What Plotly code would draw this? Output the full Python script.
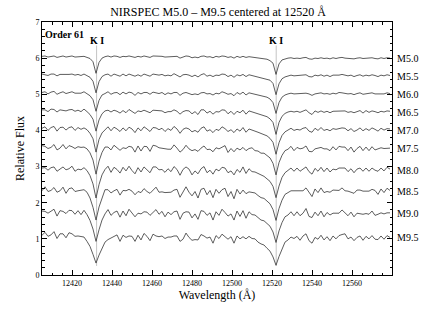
import plotly.graph_objects as go

# wavelength grid (Angstrom), 1.5 A sampling
wave_start = 12405.0
wave_step = 1.5
n_pts = 117
wavelength = [wave_start + wave_step * i for i in range(n_pts)]

spectral_types = ["M5.0", "M5.5", "M6.0", "M6.5", "M7.0", "M7.5", "M8.0", "M8.5", "M9.0", "M9.5"]
offsets = [5.0, 4.5, 4.0, 3.5, 3.0, 2.5, 1.9, 1.3, 0.7, 0.05]

ki_lines = [12432.3, 12522.1]
ki_labels = ["K I", "K I"]

flux_m50 = [1.05,1.06,1.03,1.05,1.06,1.02,1.04,1.06,1.03,1.05,1.06,1.03,1.04,1.03,1.05,1.02,
            0.99,0.90,0.58,0.88,1.00,
            1.04,1.06,1.03,1.06,1.05,1.02,1.05,1.04,1.06,1.04,
            1.02,1.05,1.03,1.06,1.05,1.02,1.06,1.06,1.04,1.05,
            1.03,1.04,1.03,1.06,1.05,1.00,1.04,1.06,1.05,1.01,
            1.03,1.01,1.05,1.06,1.03,1.04,1.01,1.05,1.03,1.06,
            1.05,1.02,1.04,1.00,1.05,1.02,1.05,1.02,1.04,1.03,1.02,
            1.01,1.00,0.99,0.97,0.93,0.86,0.55,0.84,0.95,0.98,1.00,
            1.01,0.99,1.00,0.99,1.01,1.02,0.98,0.97,1.00,0.99,
            1.01,0.99,1.00,0.98,1.01,0.99,1.01,1.02,1.00,0.99,
            1.00,0.98,1.00,1.01,0.99,1.00,0.99,1.01,0.99,0.98,
            1.01,0.99,1.01,1.00]
flux_m55 = [1.06,1.05,1.02,1.06,1.06,1.01,1.05,1.05,1.04,1.05,1.06,1.03,1.05,1.02,1.06,1.02,
            0.97,0.86,0.54,0.85,0.99,
            1.04,1.06,1.00,1.06,1.03,1.00,1.06,1.01,1.06,1.04,
            1.00,1.04,1.00,1.06,1.03,1.00,1.06,1.05,1.03,1.05,
            1.01,1.03,1.01,1.07,1.03,0.98,1.04,1.05,1.03,0.99,
            1.03,0.98,1.04,1.07,1.00,1.03,0.99,1.03,1.02,1.06,
            1.05,0.99,1.03,0.97,1.04,1.01,1.05,0.99,1.04,1.02,1.01,
            0.99,0.97,0.95,0.93,0.89,0.80,0.49,0.79,0.93,0.98,1.01,
            1.03,1.01,1.02,1.01,1.04,1.04,0.99,0.98,1.03,1.01,
            1.04,1.00,1.03,0.99,1.03,1.02,1.03,1.05,1.02,1.01,
            1.03,0.99,1.02,1.04,1.00,1.03,1.01,1.04,1.02,0.99,
            1.03,1.01,1.04,1.02]
flux_m60 = [1.05,1.07,1.01,1.06,1.08,1.00,1.04,1.07,1.02,1.04,1.07,1.03,1.04,1.03,1.07,1.02,
            0.96,0.85,0.53,0.83,0.98,
            1.02,1.07,1.00,1.04,1.05,0.99,1.06,1.01,1.06,1.04,
            0.97,1.05,1.01,1.05,1.05,1.00,1.06,1.05,1.02,1.05,
            0.99,1.04,1.01,1.05,1.05,0.97,1.03,1.05,1.03,0.99,
            1.01,0.99,1.04,1.05,1.01,1.02,0.98,1.03,1.01,1.07,
            1.04,1.00,1.02,0.96,1.05,1.00,1.06,0.98,1.04,1.03,1.00,
            0.98,0.96,0.94,0.92,0.87,0.77,0.47,0.77,0.92,0.98,1.01,
            1.03,1.01,1.02,1.01,1.04,1.03,1.01,0.97,1.01,1.02,
            1.04,1.01,1.02,1.00,1.03,1.01,1.05,1.04,1.02,1.01,
            1.02,0.99,1.02,1.04,1.00,1.02,1.02,1.04,1.01,1.01,
            1.03,1.01,1.04,1.02]
flux_m65 = [1.07,1.07,1.02,1.09,1.08,1.01,1.07,1.06,1.04,1.07,1.08,1.03,1.06,1.02,1.09,1.02,
            0.94,0.81,0.48,0.79,0.96,
            1.04,1.06,1.01,1.06,1.03,0.98,1.05,0.99,1.08,1.02,
            0.97,1.04,1.02,1.06,1.03,0.99,1.06,1.05,1.03,1.04,
            0.99,1.02,1.02,1.07,1.03,0.95,1.02,1.05,1.04,0.96,
            1.02,0.94,1.07,1.07,0.98,1.03,0.95,1.02,1.01,1.07,
            1.06,0.96,1.03,0.94,1.03,0.99,1.06,0.95,1.04,1.01,0.99,
            0.96,0.94,0.91,0.88,0.82,0.72,0.39,0.72,0.89,0.97,1.01,
            1.03,1.01,1.03,1.00,1.03,1.07,0.99,0.94,1.04,1.00,
            1.04,1.00,1.03,0.99,1.03,1.03,1.04,1.04,1.04,1.00,
            1.02,0.99,1.01,1.05,0.98,1.05,1.00,1.04,1.02,0.99,
            1.03,1.01,1.04,1.03]
flux_m70 = [1.06,1.10,1.00,1.08,1.11,0.98,1.08,1.09,1.01,1.08,1.10,1.00,1.08,1.03,1.07,1.02,
            0.92,0.77,0.40,0.75,0.93,
            1.03,1.10,0.99,1.09,1.04,0.97,1.07,0.99,1.09,1.04,
            0.94,1.07,0.99,1.10,1.04,0.97,1.08,1.07,1.02,1.06,
            0.97,1.05,1.00,1.11,1.04,0.92,1.03,1.07,1.04,0.96,
            1.00,0.95,1.06,1.10,0.98,1.02,0.94,1.03,1.00,1.10,
            1.05,0.97,1.02,0.94,1.04,0.98,1.08,0.95,1.04,1.02,0.98,
            0.95,0.92,0.89,0.85,0.78,0.67,0.34,0.66,0.86,0.96,1.01,
            1.06,1.00,1.03,1.01,1.06,1.08,0.98,0.95,1.06,1.00,
            1.08,1.00,1.03,0.99,1.05,1.03,1.05,1.07,1.06,0.99,
            1.05,0.97,1.01,1.07,0.99,1.05,1.00,1.07,1.03,0.98,
            1.06,1.01,1.05,1.04]
flux_m75 = [1.08,1.06,1.00,1.03,1.11,0.96,1.01,1.11,0.99,1.08,1.05,1.00,1.05,1.03,1.04,0.99,
            0.88,0.68,0.29,0.65,0.89,
            1.04,1.04,0.96,1.09,1.01,0.95,1.02,1.00,1.06,1.04,
            0.90,1.07,0.93,1.06,1.05,0.92,1.09,1.07,1.02,1.00,
            0.98,0.98,0.98,1.10,1.01,0.90,0.97,1.09,0.99,0.94,
            0.97,0.92,1.01,1.07,0.97,0.98,0.91,1.02,0.99,1.03,
            1.08,0.89,1.00,0.91,1.01,0.96,1.03,0.94,1.00,1.02,0.94,
            0.93,0.87,0.87,0.80,0.74,0.59,0.27,0.61,0.81,0.94,0.98,
            1.06,0.94,1.03,0.99,1.01,1.07,0.92,0.91,0.99,1.01,
            1.03,0.99,0.99,0.94,1.05,0.96,1.06,1.04,1.04,0.94,
            1.04,0.90,1.00,1.06,0.94,1.04,0.94,1.05,0.96,0.99,
            1.02,1.00,1.00,1.01]
flux_m80 = [1.06,1.07,1.00,1.07,1.09,0.97,1.03,1.09,1.01,1.04,1.11,0.97,1.03,1.01,1.07,0.99,
            0.85,0.62,0.23,0.60,0.87,
            1.02,1.11,0.94,1.08,1.02,0.92,1.08,0.98,1.11,0.99,
            0.90,1.07,0.95,1.09,1.02,0.93,1.09,1.09,1.01,1.02,
            0.94,1.04,0.96,1.10,1.02,0.86,1.02,1.09,1.03,0.87,
            0.98,0.90,1.04,1.10,0.93,1.00,0.89,1.03,0.98,1.08,
            1.06,0.93,0.98,0.87,1.02,0.94,1.09,0.91,1.04,0.96,0.95,
            0.90,0.87,0.83,0.77,0.69,0.55,0.24,0.56,0.80,0.93,1.00,
            1.06,0.97,1.06,0.97,1.04,1.09,0.96,0.89,1.05,0.97,
            1.08,0.96,1.06,0.95,1.03,1.01,1.06,1.07,1.06,0.96,
            1.04,0.93,1.03,1.06,0.97,1.06,0.97,1.06,1.00,0.97,
            1.06,0.98,1.08,1.03]
flux_m85 = [1.03,1.14,1.01,1.04,1.12,0.99,1.03,1.13,0.96,1.09,1.11,1.01,1.03,1.05,1.06,0.99,
            0.83,0.57,0.22,0.58,0.82,
            1.06,1.06,0.97,1.03,1.07,0.91,1.04,1.03,1.07,1.02,
            0.92,1.01,0.98,1.09,1.01,0.96,1.05,1.13,0.99,1.00,
            0.98,0.99,0.99,1.05,1.07,0.85,0.98,1.14,0.99,0.89,
            1.01,0.83,1.07,1.10,0.92,1.04,0.84,1.07,0.96,1.06,
            1.10,0.87,1.01,0.81,1.07,0.94,1.05,0.95,1.00,0.99,0.97,
            0.90,0.84,0.82,0.74,0.67,0.51,0.21,0.54,0.77,0.93,0.99,
            1.03,1.03,1.03,1.01,1.03,1.11,0.98,0.87,1.08,0.98,
            1.11,0.98,1.01,0.99,1.05,1.05,1.04,1.11,1.03,1.02,
            1.00,0.96,1.05,1.05,1.02,1.03,1.02,1.07,1.04,0.93,
            1.08,0.98,1.10,1.04]
flux_m90 = [1.07,1.06,1.01,1.06,1.12,0.93,1.08,1.06,1.00,1.09,1.08,0.98,1.08,0.97,1.09,0.97,
            0.81,0.57,0.23,0.55,0.82,
            0.99,1.11,0.95,1.03,1.07,0.90,1.07,0.94,1.12,1.00,
            0.91,1.01,0.99,1.05,1.04,0.95,1.02,1.11,0.98,1.06,
            0.91,1.04,0.97,1.05,1.07,0.84,1.01,1.05,1.04,0.88,
            0.99,0.84,1.08,1.06,0.95,1.02,0.82,1.05,0.95,1.12,
            1.03,0.93,0.99,0.82,1.07,0.92,1.08,0.87,1.05,0.97,0.96,
            0.88,0.82,0.80,0.72,0.65,0.49,0.20,0.52,0.75,0.91,0.96,
            1.05,0.94,1.05,0.94,1.01,1.14,0.92,0.89,1.04,0.94,
            1.07,0.91,1.03,0.96,1.01,1.00,1.01,1.10,1.02,0.94,
            1.04,0.91,1.01,1.00,0.98,1.00,0.98,1.07,0.95,0.98,
            1.02,0.99,1.02,1.02]
flux_m95 = [1.05,1.13,1.02,1.06,1.15,0.96,1.09,1.09,0.98,1.12,1.09,1.02,1.03,1.02,1.00,0.88,
            0.74,0.52,0.28,0.50,0.70,0.86,0.93,
            0.97,1.03,1.06,0.88,1.05,0.99,1.03,1.02,
            0.88,1.05,0.92,1.10,1.02,0.90,1.08,1.03,1.01,1.03,
            0.96,1.00,1.00,1.03,1.03,0.88,0.94,1.11,0.99,0.91,
            0.93,0.92,1.07,1.03,0.97,1.00,0.83,1.04,0.96,1.08,
            1.02,0.94,1.01,0.83,1.03,0.95,1.01,0.95,1.02,0.96,0.95,
            0.86,0.81,0.78,0.69,0.61,0.45,0.22,0.46,0.69,0.86,0.92,
            1.00,0.96,1.02,0.91,1.03,1.09,0.90,0.83,0.99,0.94,
            1.05,0.92,1.01,0.90,1.03,0.95,1.04,1.07,1.09,0.95,
            1.00,0.90,0.99,1.03,0.91,1.02,0.95,1.04,0.94,0.93,
            1.03,0.94,1.04,0.99]

fluxes = [flux_m50, flux_m55, flux_m60, flux_m65, flux_m70,
          flux_m75, flux_m80, flux_m85, flux_m90, flux_m95]

SERIF = "Liberation Serif"

fig = go.Figure()

for name, off, flux in zip(spectral_types, offsets, fluxes):
    fig.add_trace(go.Scatter(
        x=wavelength, y=[f + off for f in flux], mode="lines", name=name,
        line=dict(color="#333333", width=0.8), hoverinfo="skip"))

# K I reference lines
for w in ki_lines:
    fig.add_shape(type="line", x0=w, x1=w, y0=0.25, y1=6.35, xref="x", yref="y",
                  line=dict(color="#c4c4c4", width=1), layer="below")

annotations = []
for w, lab in zip(ki_lines, ki_labels):
    annotations.append(dict(x=w, y=6.49, xref="x", yref="y", text="<b>" + lab + "</b>",
                            showarrow=False, font=dict(family=SERIF, size=10, color="black")))
annotations.append(dict(x=0, y=6.66, xref="paper", yref="y", text="<b>Order 61</b>",
                        xanchor="left", xshift=1, showarrow=False,
                        font=dict(family=SERIF, size=10, color="black")))
for name, off in zip(spectral_types, offsets):
    annotations.append(dict(x=1, y=off + 1.0, xref="paper", yref="y", text=name,
                            xanchor="left", xshift=3, showarrow=False,
                            font=dict(family=SERIF, size=10, color="black")))

fig.update_layout(
    width=436, height=310,
    margin=dict(l=42, r=44, t=22, b=33),
    paper_bgcolor="white", plot_bgcolor="white",
    showlegend=False, hovermode=False,
    title=dict(text="NIRSPEC M5.0 \u2013 M9.5 centered at 12520 \u00c5", x=0.5, xanchor="center",
               y=1 - 12 / 310, yanchor="middle", yref="container",
               font=dict(family=SERIF, size=12, color="black")),
    annotations=annotations,
    font=dict(family=SERIF, color="black"),
)

fig.update_xaxes(
    range=[12405, 12580],
    tickmode="array", tickvals=list(range(12420, 12561, 20)), tickformat="d",
    ticks="inside", ticklen=5, tickcolor="black",
    showline=True, linecolor="black", linewidth=1, mirror="allticks",
    showgrid=False, zeroline=False,
    tickfont=dict(family=SERIF, size=8, color="black"),
    minor=dict(dtick=5, ticks="inside", ticklen=2.5, tickcolor="black", showgrid=False),
    title=dict(text="Wavelength (\u00c5)", font=dict(family=SERIF, size=12, color="black"), standoff=2),
)
fig.update_yaxes(
    range=[0, 7], dtick=1,
    ticks="inside", ticklen=5, tickcolor="black",
    showline=True, linecolor="black", linewidth=1, mirror="allticks",
    showgrid=False, zeroline=False,
    tickfont=dict(family=SERIF, size=8, color="black"),
    minor=dict(dtick=0.2, ticks="inside", ticklen=2.5, tickcolor="black", showgrid=False),
    title=dict(text="Relative Flux", font=dict(family=SERIF, size=12, color="black"), standoff=8),
)

fig.write_html("out.html", config={"displayModeBar": False},
               post_script="document.body.style.margin='0px';")
